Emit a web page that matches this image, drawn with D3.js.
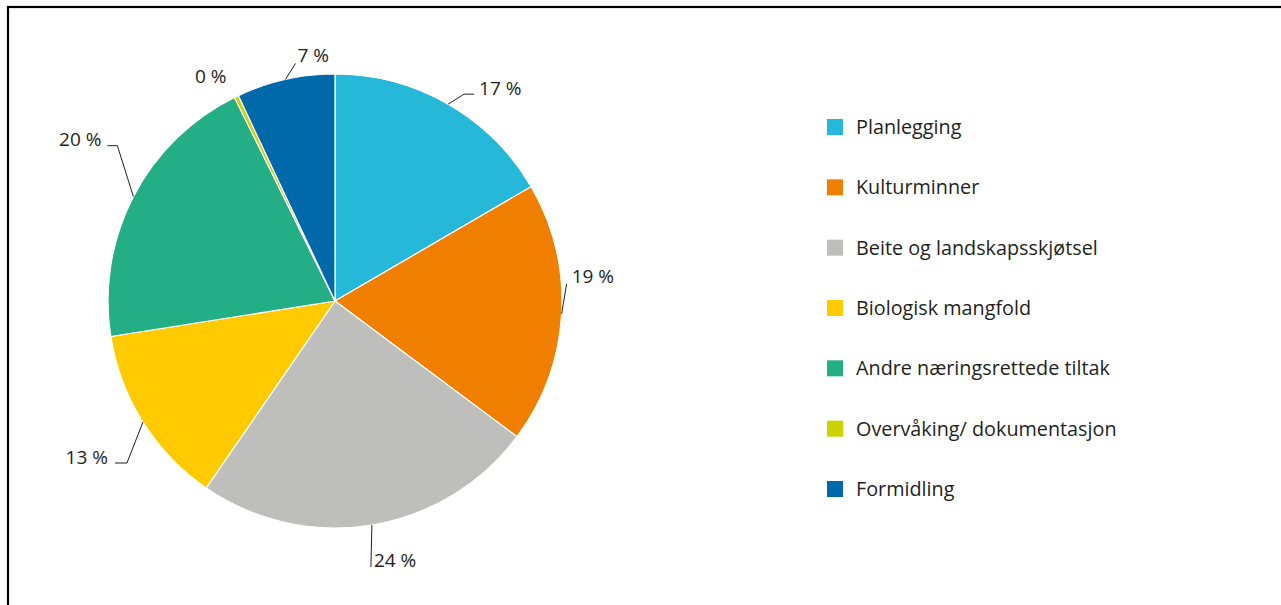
<!DOCTYPE html>
<html><head><meta charset="utf-8">
<script src="https://cdn.jsdelivr.net/npm/d3@7"></script>
<style>
html,body{margin:0;padding:0;background:#fff;}
svg{display:block;}
text{font-family:"Open Sans","Noto Sans",sans-serif;fill:#231f20;}
</style></head>
<body>
<svg id="chart" width="1281" height="605"></svg>
<script>
const categories = ["Planlegging","Kulturminner","Beite og landskapsskjøtsel","Biologisk mangfold","Andre næringsrettede tiltak","Overvåking/ dokumentasjon","Formidling"];
const values = [16.6, 18.6, 24.4, 12.9, 20.2, 0.3, 7.0];
const valueLabels = ["17 %","19 %","24 %","13 %","20 %","0 %","7 %"];
const colors = ["#26b8d9","#f07f00","#bebebc","#ffcb00","#24ae85","#c8d300","#0069aa"];

// label leader layout (offsets from the slice's outer mid point)
const labelLayout = [
  {elbow:[16,-10], tail:10, text:[5,1], anchor:"start"},
  {elbow:[5,-30], tail:0, text:[5,-1], anchor:"start"},
  {elbow:[-1,42], tail:0, text:[3,0], anchor:"start"},
  {elbow:[-16,41], tail:-12, text:[-7,1], anchor:"end"},
  {elbow:[-16,-51], tail:-10, text:[-6,0], anchor:"end"},
  {elbow:null, tail:0, text:[-10,-14], anchor:"end"},
  {elbow:[10,-16], tail:0, text:[2,-1], anchor:"start"}
];

const svg = d3.select("#chart");
// frame
svg.append("rect").attr("x",8).attr("y",7).attr("width",1300).attr("height",700)
  .attr("fill","none").attr("stroke","#000").attr("stroke-width",2.2);

const cx = 335, cy = 301, R = 227;
const g = svg.append("g").attr("transform",`translate(${cx},${cy})`);
const data = categories.map((c,i)=>({name:c, value:values[i], label:valueLabels[i], color:colors[i], idx:i}));
const pie = d3.pie().value(d=>d.value).sort(null);
const arcs = pie(data);
const arc = d3.arc().innerRadius(0).outerRadius(R);

g.selectAll("path.slice").data(arcs).join("path")
  .attr("class","slice")
  .attr("d",arc)
  .attr("fill",d=>d.data.color)
  .attr("stroke","#fff").attr("stroke-width",1.2).attr("stroke-linejoin","round");

// labels
const lg = svg.append("g");
arcs.forEach(a=>{
  const L = labelLayout[a.data.idx];
  const mid = (a.startAngle+a.endAngle)/2;
  const sx = cx + R*Math.sin(mid), sy = cy - R*Math.cos(mid);
  let ex = sx, ey = sy;
  if (L.elbow){
    ex = sx + L.elbow[0]; ey = sy + L.elbow[1];
    const pts = [[sx,sy],[ex,ey]];
    if (L.tail) pts.push([ex+L.tail, ey]);
    lg.append("path").attr("d", d3.line()(pts))
      .attr("fill","none").attr("stroke","#231f20").attr("stroke-width",1);
    if (L.tail) ex = ex + L.tail;
  }
  lg.append("text").attr("x", ex + L.text[0]).attr("y", ey + L.text[1])
    .attr("text-anchor", L.anchor).attr("font-size",19).text(a.data.label);
});

// legend
const legY = d3.scalePoint().domain(categories).range([127, 489]);
const leg = svg.append("g");
categories.forEach((c,i)=>{
  const y = legY(c);
  leg.append("rect").attr("x",827).attr("y",y-8).attr("width",16).attr("height",16).attr("fill",colors[i]);
  leg.append("text").attr("x",856).attr("y",y).attr("dy","0.35em").attr("font-size",19.8).text(c);
});
</script>
</body></html>
